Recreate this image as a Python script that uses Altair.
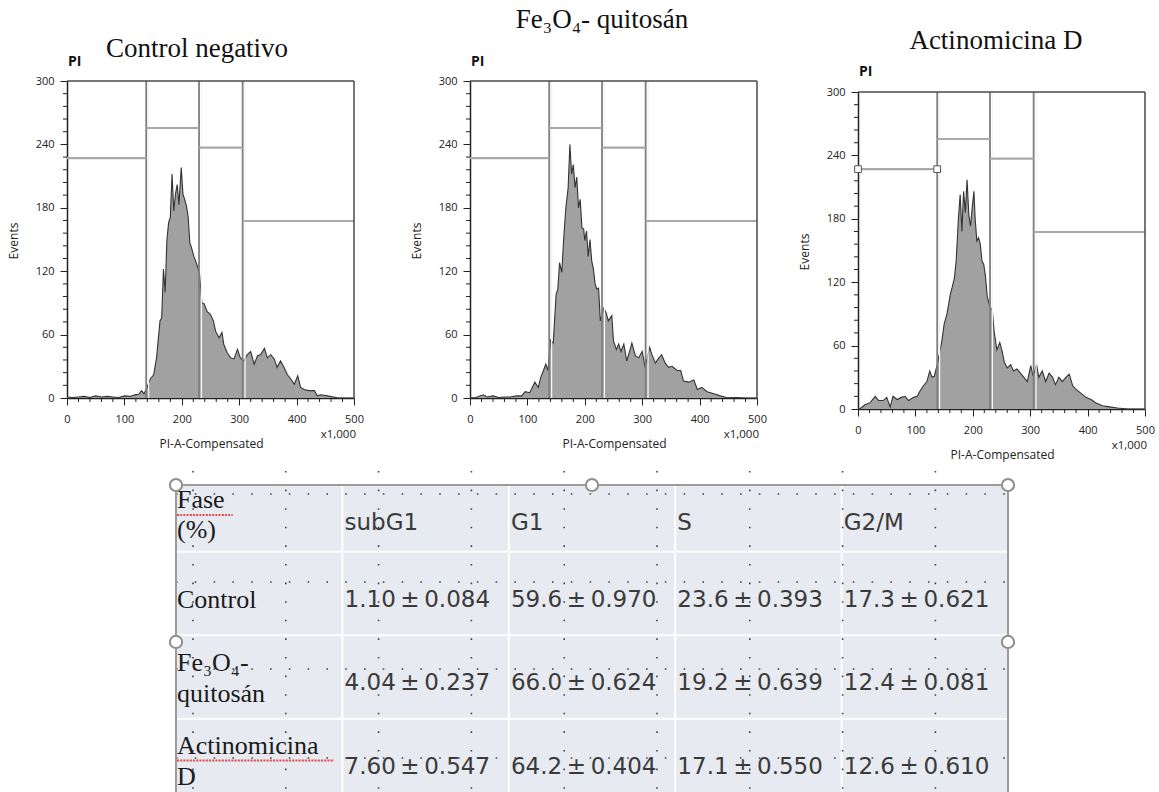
import altair as alt
import pandas as pd

# ---------------- histogram data: PI-A-Compensated (x1,000) vs Events ----------------
ctrl_x = [0, 10, 20, 30, 40, 50, 60, 70, 80, 90, 100, 110, 118, 125, 130, 134, 138, 145, 151, 156,
          162, 165, 168, 171, 174, 177, 180, 183, 186, 189, 192, 195, 199, 202, 205, 208, 211, 214, 217, 221,
          224, 227, 231, 235, 239, 244, 250, 255, 259, 265, 270, 273, 279, 285, 291, 297, 302, 308, 314, 320,
          326, 332, 337, 344, 349, 355, 361, 366, 372, 378, 384, 390, 396, 402, 407, 413, 422, 431, 436, 442,
          454, 471, 485, 500]
ctrl_y = [1, 0.5, 1, 1.5, 0.5, 2, 1, 1.5, 1, 0.5, 2, 1.5, 3, 3.5, 7, 4, 8, 18, 22, 38,
          73, 76, 122, 100, 149, 166, 171, 212, 177, 193, 202, 183, 218, 193, 188, 182, 172, 147, 142, 134,
          130, 125, 117, 90, 89, 82, 79, 73, 63, 57, 62, 51, 43, 38, 37, 46, 38, 35, 41, 44,
          32, 40, 41, 47, 38, 41, 37, 29, 35, 29, 22, 18, 13, 21, 10, 8, 7, 7, 2, 3,
          2, 0.3, 0, 0]

fe_x = [0, 10, 23, 30, 40, 50, 60, 70, 81, 90, 96, 104, 113, 119, 123, 128, 132, 136, 140, 145,
        150, 153, 156, 160, 163, 167, 171, 174, 177, 180, 183, 186, 189, 192, 195, 198, 200, 203, 206, 209,
        212, 215, 218, 221, 224, 227, 233, 237, 241, 247, 250, 255, 259, 263, 268, 273, 279, 282, 288, 294,
        300, 305, 313, 317, 323, 329, 334, 340, 346, 352, 361, 367, 372, 381, 390, 396, 404, 413, 425, 436,
        448, 465, 480, 500]
fe_y = [0, 0.5, 3, 1, 2, 0.5, 1, 1, 2, 2, 6, 5, 15, 10, 19, 26, 32, 26, 55, 52,
        98, 103, 128, 119, 149, 180, 199, 240, 212, 221, 199, 209, 180, 188, 161, 160, 149, 158, 134, 150,
        130, 122, 108, 103, 104, 73, 85, 81, 73, 78, 54, 46, 51, 44, 51, 35, 46, 52, 40, 38,
        44, 29, 48, 41, 33, 38, 41, 33, 29, 30, 26, 26, 16, 15, 17, 8, 10, 6, 4, 2,
        0.3, 0.5, 0, 0]

act_x = [0, 3, 12, 21, 30, 36, 44, 50, 56, 61, 68, 76, 82, 88, 97, 103, 108, 114, 120, 125,
         129, 133, 138, 142, 146, 150, 155, 161, 164, 168, 171, 175, 178, 181, 184, 187, 190, 193, 196, 199,
         202, 204, 207, 210, 213, 216, 219, 222, 225, 230, 234, 237, 240, 242, 247, 251, 255, 260, 266, 271,
         277, 283, 289, 295, 301, 305, 311, 315, 321, 327, 333, 339, 344, 350, 356, 362, 368, 374, 379, 388,
         397, 406, 414, 426, 438, 452, 470, 500]
act_y = [0, 0, 4, 6, 12, 8, 8, 11, 2, 12, 9, 11, 12, 8, 11, 12, 17, 22, 26, 36,
         30, 31, 42, 53, 64, 80, 90, 109, 115, 124, 140, 181, 203, 168, 206, 186, 217, 184, 173, 191,
         206, 181, 159, 162, 156, 140, 137, 126, 107, 96, 94, 74, 63, 56, 63, 55, 44, 39, 42, 36,
         38, 34, 30, 26, 41, 31, 42, 30, 36, 26, 34, 30, 23, 30, 26, 30, 33, 22, 19, 15,
         11, 9, 6, 3, 2, 1, 0, 0]

# gates (subG1 | G1 | S | G2/M)
gate_cuts = [138, 230, 306]
gate_start = [0, 138, 230, 306]
gate_end = [138, 230, 306, 500]
gate_level = [227, 255.5, 237, 167.5]

panel_titles = ["Control negativo", "Fe\u2083O\u2084- quitos\u00e1n", "Actinomicina D"]

x_ticks = [0, 100, 200, 300, 400, 500]
y_ticks = [0, 60, 120, 180, 240, 300]
x_minor = [v for v in range(0, 501, 20) if v % 100]
y_minor = [v for v in range(0, 301, 12) if v % 60]

# ---------------- table data ----------------
table_phases = ["subG1", "G1", "S", "G2/M"]
table_groups = [["Control"], ["Fe\u2083O\u2084-", "quitos\u00e1n"], ["Actinomicina", "D"]]
header_label = ["Fase", "(%)"]
means = [[1.10, 59.6, 23.6, 17.3],
         [4.04, 66.0, 19.2, 12.4],
         [7.60, 64.2, 17.1, 12.6]]
sds = [[0.084, 0.970, 0.393, 0.621],
       [0.237, 0.624, 0.639, 0.081],
       [0.547, 0.404, 0.550, 0.610]]

# ---------------- styling / layout ----------------
FONT = "Open Sans"
SERIF = "Liberation Serif"
TSANS = "DejaVu Sans"
AX = "#222222"
PLOT_W = 287
PLOT_H = 317


def make_panel(xs, ys, title, title_x, title_y, pi_y, top, width, handles=False, anchor=False):
    bottom = PLOT_H + top
    xsc = alt.Scale(domain=[0, 500], range=[0, PLOT_W], nice=False, zero=False)
    ysc = alt.Scale(domain=[0, 300], range=[bottom, top], nice=False, zero=False)
    xaxis = alt.Axis(values=x_ticks, tickSize=7, tickColor=AX, tickWidth=1, domainColor=AX, domainWidth=1.5,
                     labelFont=FONT, labelFontSize=11, labelColor=AX, labelPadding=8, labelFlush=False,
                     labelOverlap=False, grid=False, title="PI-A-Compensated", titleFont=FONT, titleFontSize=12,
                     titleFontWeight="normal", titleColor=AX, titleX=144, titleY=45, titleBaseline="middle")
    yaxis = alt.Axis(values=y_ticks, tickSize=7, tickColor=AX, tickWidth=1, domainColor=AX, domainWidth=1.5,
                     labelFont=FONT, labelFontSize=11, labelColor=AX, labelPadding=6, labelFlush=False,
                     labelOverlap=False, grid=False, title="Events", titleFont=FONT, titleFontSize=12,
                     titleFontWeight="normal", titleColor=AX, titleX=-54, titleY=top + PLOT_H / 2 + 1,
                     titleBaseline="middle")

    def X(f):
        return alt.X(f, type="quantitative", scale=xsc, axis=xaxis)

    def Y(f):
        return alt.Y(f, type="quantitative", scale=ysc, axis=yaxis)

    hist = pd.DataFrame({"x": xs, "y": ys})
    area = alt.Chart(hist).mark_area(color="#a1a1a1", opacity=1,
                                     line={"color": "#333333", "strokeWidth": 1.1}).encode(x=X("x"), y=Y("y"))

    vg = pd.DataFrame({"x": gate_cuts, "y": [0] * 3, "y1": [300] * 3})
    vwhite = alt.Chart(vg).mark_rule(color="#f4f4f4", strokeWidth=1.3, xOffset=2.4).encode(
        x=X("x"), y=Y("y"), y2="y1")
    vgrey = alt.Chart(vg).mark_rule(color="#7e7e7e", strokeWidth=1.8).encode(x=X("x"), y=Y("y"), y2="y1")

    hg = pd.DataFrame({"x": gate_start, "x1": gate_end, "y": gate_level})
    hrule = alt.Chart(hg).mark_rule(color="#a9a9a9", strokeWidth=2.2).encode(x=X("x"), x2="x1", y=Y("y"))

    fr = pd.DataFrame({"x": [0, 500], "x1": [500, 500], "y": [300, 0], "y1": [300, 300]})
    frame = alt.Chart(fr).mark_rule(color="#4a4a4a", strokeWidth=1.5).encode(
        x=X("x"), x2="x1", y=Y("y"), y2="y1")

    mx = alt.Chart(pd.DataFrame({"x": x_minor})).mark_rule(color=AX, strokeWidth=1).encode(
        x=X("x"), y=alt.value(bottom), y2=alt.value(bottom + 4))
    my = alt.Chart(pd.DataFrame({"y": y_minor})).mark_rule(color=AX, strokeWidth=1).encode(
        y=Y("y"), x=alt.value(-4), x2=alt.value(0))

    def txt(s, x, y, **kw):
        return alt.Chart(pd.DataFrame({"t": [s]})).mark_text(**kw).encode(
            text="t:N", x=alt.value(x), y=alt.value(y))

    t_title = txt(title, title_x, title_y, font=SERIF, fontSize=27, align="center",
                  baseline="alphabetic", color="#111111")
    t_pi = txt("PI", 1, pi_y, font=FONT, fontSize=14, fontWeight="bold", align="left",
               baseline="alphabetic", color="#111111")
    t_k = txt("x1,000", PLOT_W + 2, bottom + 37, font=FONT, fontSize=11.5, align="right",
              baseline="middle", color=AX)

    layers = [area, vwhite, vgrey, hrule, frame, mx, my, t_title, t_pi, t_k]
    if handles:
        hd = pd.DataFrame({"x": [gate_start[0], gate_end[0]], "y": [gate_level[0]] * 2})
        layers.append(alt.Chart(hd).mark_point(shape="square", size=45, fill="white", stroke="#555555",
                                               strokeWidth=1, opacity=1, fillOpacity=1).encode(x=X("x"), y=Y("y")))
    if anchor:
        layers.append(alt.Chart(pd.DataFrame({"t": [0]})).mark_rule(opacity=0, color="white").encode(
            x=alt.value(-66), y=alt.value(-80), y2=alt.value(-79)))
    return alt.layer(*layers)


# ---------------- table (drawn inside panel 2's view with its own scales) ----------------
COL_W = 166.4
ROW_H = 83.5
T_LEFT = 175 - 469   # relative to panel-2 plot origin
T_TOP = 484 - 80
T_BOTTOM = 3.68
T_X = alt.Scale(domain=[0, 5], range=[T_LEFT, T_LEFT + 5 * COL_W], nice=False, zero=False)
T_Y = alt.Scale(domain=[0, T_BOTTOM], range=[T_TOP, T_TOP + T_BOTTOM * ROW_H], nice=False, zero=False)


def tx(f):
    return alt.X(f, type="quantitative", scale=T_X, axis=None)


def ty(f):
    return alt.Y(f, type="quantitative", scale=T_Y, axis=None)


row_tops = [0.8, 1.8, 2.8]
bg = alt.Chart(pd.DataFrame({"x": [0], "x1": [5], "y": [0], "y1": [T_BOTTOM]})).mark_rect(
    color="#e7eaf1").encode(x=tx("x"), x2="x1", y=ty("y"), y2="y1")
seps = pd.DataFrame({"x": [0, 0, 0, 1, 2, 3, 4], "x1": [5, 5, 5, 1, 2, 3, 4],
                     "y": row_tops + [0] * 4, "y1": row_tops + [T_BOTTOM] * 4})
sep = alt.Chart(seps).mark_rule(color="white", strokeWidth=2).encode(x=tx("x"), x2="x1", y=ty("y"), y2="y1")

dot_v = pd.DataFrame({"x": [(17 + 92.8 * k) / COL_W for k in range(9)], "y": [-0.168] * 9, "y1": [T_BOTTOM] * 9})
dotv = alt.Chart(dot_v).mark_rule(color="#444444", strokeWidth=1.6, strokeDash=[1.6, 17]).encode(
    x=tx("x"), y=ty("y"), y2="y1")
dot_h = pd.DataFrame({"y": [0.108, 1.162, 2.204, 3.269], "x": [0.0] * 4, "x1": [5.0] * 4})
doth = alt.Chart(dot_h).mark_rule(color="#444444", strokeWidth=1.6, strokeDash=[1.6, 17.2]).encode(
    x=tx("x"), x2="x1", y=ty("y"))

border = pd.DataFrame({"x": [0, 0, 5], "x1": [5, 0, 5], "y": [0, 0, 0], "y1": [0, T_BOTTOM, T_BOTTOM]})
bord = alt.Chart(border).mark_rule(color="#9b9b9b", strokeWidth=2).encode(x=tx("x"), x2="x1", y=ty("y"), y2="y1")

squig = pd.DataFrame({"x": [0.006, 0.006], "x1": [0.34, 0.95], "y": [0.36, 3.30]})
sq = alt.Chart(squig).mark_rule(color="#e04848", strokeWidth=2, strokeDash=[2, 1.2]).encode(
    x=tx("x"), x2="x1", y=ty("y"))

COL_PAD = 0.013
VAL_DY = 0.575
PM = "\u2009\u00b1\u2009"
val_rows = [{"t": ph, "x": j + 1 + COL_PAD, "y": 0.455} for j, ph in enumerate(table_phases)]
for i in range(3):
    for j in range(4):
        dec = 2 if j == 0 else 1
        val_rows.append({"t": f"{means[i][j]:.{dec}f}{PM}{sds[i][j]:.3f}",
                         "x": j + 1 + COL_PAD, "y": row_tops[i] + VAL_DY})
vals = alt.Chart(pd.DataFrame(val_rows)).mark_text(font=TSANS, fontSize=23, align="left", baseline="middle",
                                                    color="#3a3a3a").encode(text="t:N", x=tx("x"), y=ty("y"))

lab_rows = [{"t": header_label[0], "x": 0.006, "y": 0.18}, {"t": header_label[1], "x": 0.006, "y": 0.535}]
for i, lines in enumerate(table_groups):
    if len(lines) == 1:
        lab_rows.append({"t": lines[0], "x": 0.006, "y": row_tops[i] + VAL_DY})
    else:
        lab_rows.append({"t": lines[0], "x": 0.006, "y": row_tops[i] + 0.33})
        lab_rows.append({"t": lines[1], "x": 0.006, "y": row_tops[i] + 0.70})
labs = alt.Chart(pd.DataFrame(lab_rows)).mark_text(font=SERIF, fontSize=26, align="left", baseline="middle",
                                                    color="#1a1a1a").encode(text="t:N", x=tx("x"), y=ty("y"))

handles_df = pd.DataFrame({"x": [0, 2.5, 5, 0, 5], "y": [0, 0, 0, 1.88, 1.88]})
hnd = alt.Chart(handles_df).mark_point(shape="circle", size=150, fill="white", stroke="#8e8e8e",
                                       strokeWidth=2, opacity=1, fillOpacity=1).encode(x=tx("x"), y=ty("y"))

table = alt.layer(bg, sep, dotv, doth, bord, sq, vals, labs, hnd)

# ---------------- panels ----------------
p1 = make_panel(ctrl_x, ctrl_y, panel_titles[0], 130, -24, -15, 0, PLOT_W, anchor=True).properties(
    width=PLOT_W, height=PLOT_H)
p2_hist = make_panel(fe_x, fe_y, panel_titles[1], 132, -53, -15, 0, PLOT_W)
p2 = alt.layer(p2_hist, table).resolve_scale(x="independent", y="independent").properties(
    width=272, height=PLOT_H)
p3 = make_panel(act_x, act_y, panel_titles[2], 138, -32, -5, 11, PLOT_W, handles=True).properties(
    width=PLOT_W, height=PLOT_H + 11)

chart = alt.hconcat(p1, p2, p3, spacing=116, bounds="flush").properties(
    padding={"left": 0, "top": 0, "right": 0, "bottom": 0}
).configure_view(stroke="transparent")

chart.save("out.html", embed_options={"renderer": "svg", "actions": False})
